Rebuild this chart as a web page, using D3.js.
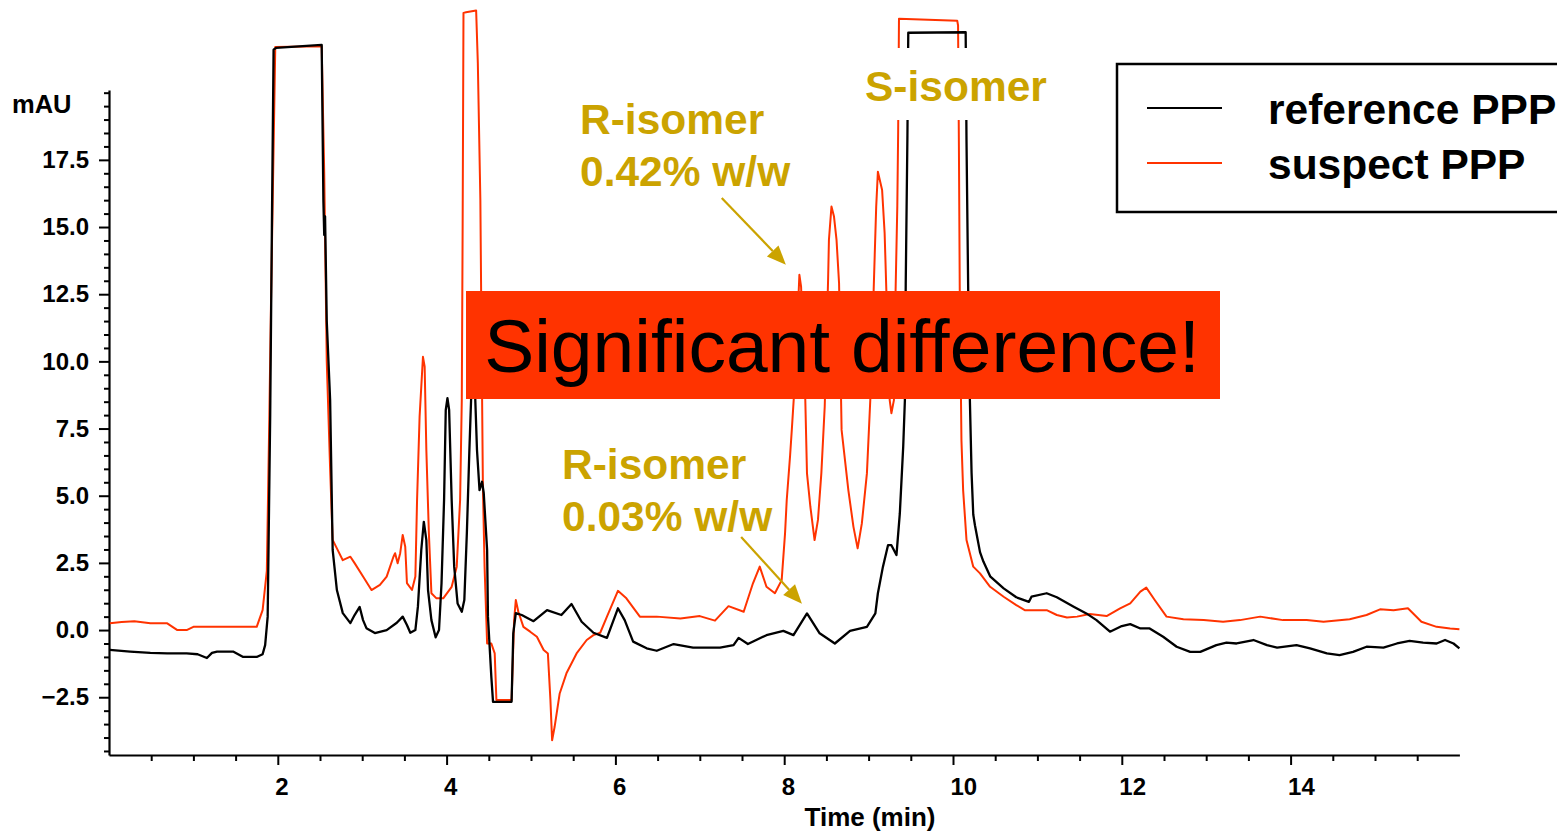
<!DOCTYPE html>
<html>
<head>
<meta charset="utf-8">
<script src="https://cdn.jsdelivr.net/npm/d3@7"></script>
<style>
  html, body { margin: 0; padding: 0; background: #fff; }
  svg { display: block; font-family: "Liberation Sans", Arial, sans-serif; }
</style>
</head>
<body>
<svg id="chart" width="1557" height="832"></svg>
<script>
// Chromatogram traces: [time (min), absorbance (mAU)]
const referenceTrace = [
  [0.01,-0.74],[0.25,-0.8],[0.49,-0.85],[0.69,-0.87],[0.92,-0.87],[1.05,-0.9],[1.16,-1.04],[1.22,-0.85],
  [1.28,-0.8],[1.47,-0.8],[1.59,-1.0],[1.75,-1.0],[1.82,-0.9],[1.85,-0.56],[1.88,0.5],[1.91,8],[1.93,15],
  [1.95,21.6],[1.98,21.67],[2.52,21.78],[2.54,16.0],[2.55,14.7],[2.56,15.4],[2.58,11.5],[2.62,8.56],
  [2.64,4.84],[2.65,2.98],[2.70,1.49],[2.77,0.63],[2.86,0.26],[2.91,0.56],[2.97,0.86],[3.01,0.37],
  [3.05,0.07],[3.15,-0.11],[3.29,0.0],[3.41,0.27],[3.48,0.5],[3.53,0.19],[3.57,-0.1],[3.63,0.0],
  [3.66,0.87],[3.70,2.98],[3.73,4.03],[3.76,3.35],[3.78,1.49],[3.82,0.37],[3.87,-0.27],[3.91,0.0],
  [3.94,1.75],[3.97,4.84],[3.99,8.19],[4.01,8.63],[4.03,8.19],[4.06,4.84],[4.09,2.36],[4.13,0.99],
  [4.18,0.68],[4.21,1.12],[4.24,3.61],[4.27,6.7],[4.29,8.56],[4.31,11.5],[4.33,11.5],[4.34,8.56],
  [4.36,6.7],[4.39,5.21],[4.42,5.52],[4.44,5.1],[4.48,2.98],[4.49,0.5],[4.53,-1.74],[4.55,-2.67],
  [4.77,-2.67],[4.79,-0.12],[4.82,0.63],[4.89,0.56],[5.03,0.33],[5.19,0.74],[5.36,0.56],[5.48,0.97],
  [5.60,0.31],[5.74,-0.1],[5.90,-0.29],[6.03,0.81],[6.11,0.37],[6.21,-0.43],[6.37,-0.68],[6.49,-0.77],
  [6.69,-0.52],[6.92,-0.65],[7.24,-0.65],[7.40,-0.56],[7.46,-0.29],[7.57,-0.52],[7.79,-0.19],[7.99,-0.03],
  [8.11,-0.19],[8.27,0.62],[8.42,-0.12],[8.60,-0.5],[8.78,-0.03],[8.98,0.12],[9.08,0.62],[9.11,1.37],
  [9.17,2.36],[9.23,3.16],[9.27,3.16],[9.33,2.79],[9.37,4.34],[9.41,6.82],[9.43,8.56],[9.44,12.9],
  [9.46,18.4],[9.47,22.23],[10.15,22.25],[10.16,18.2],[10.18,12.66],[10.20,8.56],[10.22,5.85],
  [10.24,4.3],[10.26,3.9],[10.32,2.9],[10.36,2.55],[10.44,2.0],[10.60,1.55],[10.75,1.22],[10.90,1.05],
  [10.93,1.24],[11.11,1.37],[11.23,1.22],[11.43,0.87],[11.58,0.62],[11.70,0.37],[11.86,-0.06],[12.0,0.15],
  [12.10,0.22],[12.22,0.06],[12.33,0.06],[12.49,-0.25],[12.65,-0.62],[12.81,-0.81],[12.93,-0.81],
  [13.12,-0.56],[13.24,-0.47],[13.36,-0.5],[13.56,-0.37],[13.72,-0.56],[13.84,-0.65],[14.07,-0.56],
  [14.23,-0.68],[14.43,-0.87],[14.58,-0.93],[14.74,-0.81],[14.90,-0.62],[15.10,-0.65],[15.26,-0.5],
  [15.41,-0.4],[15.57,-0.47],[15.73,-0.5],[15.83,-0.37],[15.93,-0.5],[16.0,-0.68]
];

const suspectTrace = [
  [0.01,0.25],[0.15,0.3],[0.3,0.33],[0.49,0.25],[0.69,0.25],[0.81,0.0],[0.92,0.0],[1.0,0.12],[1.4,0.12],
  [1.75,0.12],[1.82,0.74],[1.87,2.2],[1.90,8],[1.92,12.3],[1.97,21.7],[2.52,21.73],[2.55,17],[2.58,10],
  [2.62,6],[2.64,4.22],[2.65,3.35],[2.70,3.04],[2.77,2.6],[2.86,2.73],[2.91,2.49],[3.01,1.99],[3.11,1.49],
  [3.21,1.68],[3.29,1.99],[3.37,2.73],[3.39,2.86],[3.42,2.49],[3.45,2.86],[3.48,3.54],[3.51,3.1],
  [3.53,1.75],[3.59,1.49],[3.63,1.99],[3.65,4.84],[3.68,7.94],[3.72,10.17],[3.74,9.8],[3.76,6.7],
  [3.79,3.6],[3.82,1.37],[3.88,1.18],[3.96,1.18],[4.06,1.61],[4.12,2.36],[4.16,4.84],[4.18,8.56],
  [4.19,15],[4.20,22.97],[4.23,22.99],[4.35,23.06],[4.37,21.1],[4.40,16.0],[4.41,12.3],[4.43,5.34],
  [4.45,2.36],[4.48,-0.5],[4.53,-0.5],[4.57,-0.87],[4.59,-2.6],[4.77,-2.6],[4.80,0.37],[4.82,1.12],
  [4.85,0.68],[4.91,0.12],[4.99,-0.06],[5.07,-0.25],[5.15,-0.74],[5.20,-0.87],[5.23,-2.6],[5.25,-4.1],
  [5.28,-3.6],[5.34,-2.36],[5.42,-1.61],[5.54,-0.87],[5.66,-0.37],[5.74,-0.19],[5.82,-0.1],[5.90,0.5],
  [6.03,1.46],[6.13,1.18],[6.29,0.5],[6.49,0.5],[6.77,0.43],[7.0,0.52],[7.18,0.35],[7.34,0.89],
  [7.52,0.68],[7.63,1.74],[7.71,2.36],[7.79,1.61],[7.89,1.37],[7.97,1.86],[8.01,3.6],[8.03,4.84],
  [8.07,6.5],[8.09,7.45],[8.12,8.94],[8.15,11],[8.18,13.22],[8.20,12.78],[8.25,8.56],[8.27,5.83],
  [8.31,4.59],[8.36,3.35],[8.40,4.1],[8.44,5.83],[8.48,8.31],[8.52,13.03],[8.53,14.52],[8.56,15.76],
  [8.59,15.39],[8.62,14.52],[8.65,12.91],[8.68,7.45],[8.76,5.21],[8.82,3.85],[8.87,3.04],[8.92,3.97],
  [8.98,5.83],[9.02,8.56],[9.06,12.66],[9.09,15.76],[9.11,17.06],[9.16,16.38],[9.19,14.77],[9.21,12.66],
  [9.25,8.56],[9.27,8.07],[9.30,8.56],[9.32,12.66],[9.34,15.76],[9.35,18.5],[9.36,22.75],[10.05,22.68],
  [10.06,22.5],[10.07,18],[10.08,12.66],[10.10,7.07],[10.12,5.21],[10.16,3.35],[10.24,2.36],[10.32,2.11],
  [10.44,1.61],[10.60,1.24],[10.75,0.93],[10.85,0.74],[11.11,0.74],[11.23,0.56],[11.35,0.47],[11.47,0.5],
  [11.62,0.6],[11.82,0.52],[11.98,0.81],[12.10,0.99],[12.22,1.43],[12.29,1.58],[12.39,1.12],[12.53,0.5],
  [12.73,0.4],[12.97,0.37],[13.20,0.31],[13.40,0.37],[13.64,0.5],[13.91,0.37],[14.19,0.37],[14.39,0.31],
  [14.70,0.4],[14.90,0.56],[15.06,0.77],[15.22,0.74],[15.39,0.81],[15.55,0.31],[15.73,0.12],[15.89,0.06],
  [16.0,0.03]
];

const seriesNames = ["reference PPP", "suspect PPP"];
const xTickValues = [2, 4, 6, 8, 10, 12, 14];
const yTickValues = [-2.5, 0, 2.5, 5, 7.5, 10, 12.5, 15, 17.5];
const xMinorStep = 0.5;
const yMinorStep = 0.5;
const xTitle = "Time (min)";
const yTitle = "mAU";
const bannerText = "Significant difference!";

const RED = "#ff3300";
const GOLD = "#cba300";

const svg = d3.select("#chart");

// Scales
const x = d3.scaleLinear().domain([0, 16]).range([109, 1459.4]);
const y = d3.scaleLinear().domain([-4.65, 20.1]).range([755, 90]);

// Minor ticks
const xMinor = d3.range(xMinorStep, 16, xMinorStep).filter(v => !xTickValues.includes(v));
const yMinor = d3.range(-4.5, 20.01, yMinorStep).filter(v => !yTickValues.some(t => Math.abs(t - v) < 1e-9));

// X axis
const xAxisG = svg.append("g").attr("transform", `translate(0,${y.range()[0]})`);
xAxisG.call(d3.axisBottom(x).tickValues(xMinor).tickSize(6).tickSizeOuter(0).tickFormat(""));
xAxisG.append("g").call(d3.axisBottom(x).tickValues(xTickValues).tickSize(10).tickSizeOuter(0).tickPadding(13).tickFormat(d3.format("d")))
  .call(g => g.select(".domain").remove());

// Y axis
const yAxisG = svg.append("g").attr("transform", `translate(${x.range()[0]},0)`);
yAxisG.call(d3.axisLeft(y).tickValues(yMinor).tickSize(5).tickSizeOuter(0).tickFormat(""));
yAxisG.append("g").call(d3.axisLeft(y).tickValues(yTickValues).tickSize(10).tickSizeOuter(0).tickPadding(10).tickFormat(d3.format(".1f")))
  .call(g => g.select(".domain").remove());

svg.selectAll(".domain").attr("stroke", "#000").attr("stroke-width", 2.2);
svg.selectAll(".tick line").attr("stroke", "#000").attr("stroke-width", 2);
svg.selectAll(".tick text")
  .attr("fill", "#000")
  .style("font-family", "'Liberation Sans', Arial, sans-serif")
  .style("font-size", "24px")
  .style("font-weight", "bold");
xAxisG.selectAll(".tick text").attr("text-anchor", "start").attr("x", -3);

// Axis titles
svg.append("text").attr("x", 870).attr("y", 826).attr("text-anchor", "middle")
  .style("font-size", "26px").style("font-weight", "bold").text(xTitle);
svg.append("text").attr("x", 12).attr("y", 113).attr("text-anchor", "start")
  .style("font-size", "25.5px").style("font-weight", "bold").text(yTitle);

// Traces
const line = d3.line().x(d => x(d[0])).y(d => y(d[1]));
svg.append("path").datum(suspectTrace).attr("d", line)
  .attr("fill", "none").attr("stroke", RED).attr("stroke-width", 2).attr("stroke-linejoin", "round");
svg.append("path").datum(referenceTrace).attr("d", line)
  .attr("fill", "none").attr("stroke", "#000").attr("stroke-width", 2.3).attr("stroke-linejoin", "round");

// Banner
svg.append("rect").attr("x", 466).attr("y", 291).attr("width", 754).attr("height", 108).attr("fill", RED);
svg.append("text").attr("x", 842).attr("y", 372).attr("text-anchor", "middle")
  .style("font-size", "75px").attr("fill", "#000").text(bannerText);

// Legend
const legend = svg.append("g");
legend.append("rect").attr("x", 1117).attr("y", 64).attr("width", 470).attr("height", 148)
  .attr("fill", "#fff").attr("stroke", "#000").attr("stroke-width", 2.5);
const legendColors = ["#000", RED];
seriesNames.forEach((name, i) => {
  const ly = 108 + i * 55;
  legend.append("line").attr("x1", 1147).attr("x2", 1222).attr("y1", ly).attr("y2", ly)
    .attr("stroke", legendColors[i]).attr("stroke-width", 2);
  legend.append("text").attr("x", 1268).attr("y", ly + 16)
    .style("font-size", "42.5px").style("font-weight", "bold").attr("fill", "#000").text(name);
});

// Peak annotations (the S-isomer label sits on a white patch over the peak)
const notes = [
  { lines: ["R-isomer", "0.42% w/w"], x: 580, y: 134, backed: false },
  { lines: ["S-isomer"], x: 865, y: 101, backed: true },
  { lines: ["R-isomer", "0.03% w/w"], x: 562, y: 479, backed: false }
];
notes.forEach(n => {
  const g = svg.append("g");
  const bg = g.append("rect").attr("fill", "#fff");
  n.lines.forEach((t, i) => {
    g.append("text").attr("x", n.x).attr("y", n.y + i * 52)
      .style("font-size", "42.5px").style("font-weight", "bold").attr("fill", GOLD).text(t);
  });
  if (n.backed) {
    const b = g.node().getBBox();
    bg.attr("x", b.x - 3).attr("y", 48).attr("width", b.width + 6).attr("height", 72);
  } else {
    bg.remove();
  }
});

// Arrows pointing at the R-isomer peaks (time, mAU)
const arrows = [
  { from: [7.26, 16.08], to: [8.02, 13.6] },
  { from: [7.49, 3.46], to: [8.21, 0.98] }
];
arrows.forEach(a => {
  const x1 = x(a.from[0]), y1 = y(a.from[1]), x2 = x(a.to[0]), y2 = y(a.to[1]);
  const ang = Math.atan2(y2 - y1, x2 - x1);
  const headLen = 19, headW = 8;
  const bx = x2 - headLen * Math.cos(ang), by = y2 - headLen * Math.sin(ang);
  svg.append("line").attr("x1", x1).attr("y1", y1).attr("x2", bx).attr("y2", by)
    .attr("stroke", GOLD).attr("stroke-width", 2.2);
  const px = -Math.sin(ang) * headW, py = Math.cos(ang) * headW;
  svg.append("path")
    .attr("d", `M${x2},${y2}L${bx + px},${by + py}L${bx - px},${by - py}Z`)
    .attr("fill", GOLD);
});
</script>
</body>
</html>
